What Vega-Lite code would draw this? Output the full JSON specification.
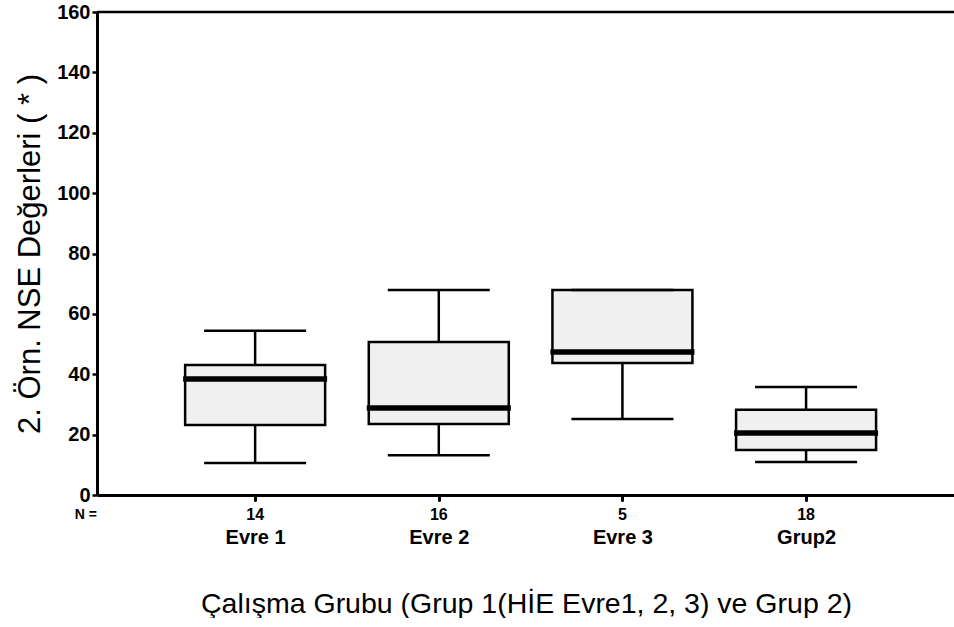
{
  "$schema": "https://vega.github.io/schema/vega-lite/v6.json",
  "width": 858,
  "height": 483,
  "padding": {"left": 14, "top": 2, "right": 0, "bottom": 0},
  "background": "white",
  "config": {
    "view": {"stroke": null},
    "font": "Liberation Sans",
    "axis": {"labelColor": "black", "titleColor": "black", "domainColor": "black", "tickColor": "black", "grid": false, "titleFontWeight": "normal", "labelFont": "Liberation Sans", "titleFont": "Liberation Sans"}
  },
  "datasets": {
    "boxes": [
      {"group": "Evre 1", "n": 14, "lower": 10.6, "q1": 23.2, "median": 38.4, "q3": 43.1, "upper": 54.4},
      {"group": "Evre 2", "n": 16, "lower": 13.2, "q1": 23.5, "median": 28.8, "q3": 50.7, "upper": 67.9},
      {"group": "Evre 3", "n": 5, "lower": 25.2, "q1": 43.7, "median": 47.4, "q3": 67.9, "upper": 67.9},
      {"group": "Grup2", "n": 18, "lower": 10.9, "q1": 14.9, "median": 20.5, "q3": 28.2, "upper": 35.8}
    ],
    "nlabel": [{"label": "N ="}],
    "frame": [{"top": 160}]
  },
  "layer": [
    {
      "data": {"name": "boxes"},
      "mark": {"type": "rule", "color": "black", "strokeWidth": 2.5},
      "encoding": {
        "x": {
          "field": "group",
          "type": "nominal",
          "sort": ["Evre 1", "Evre 2", "Evre 3", "Grup2"],
          "scale": {"type": "point", "padding": 0.836, "align": 0.515},
          "axis": {
            "title": "Çalışma Grubu (Grup 1(HİE Evre1, 2, 3) ve Grup 2)",
            "titleFontSize": 28.5,
            "titlePadding": 42,
            "labelAngle": 0,
            "labelFontSize": 20,
            "labelFontWeight": "bold",
            "labelPadding": 27,
            "domainWidth": 3,
            "tickSize": 5,
            "tickWidth": 3,
            "tickCap": "round"
          }
        },
        "y": {
          "field": "lower",
          "type": "quantitative",
          "scale": {"domain": [0, 160], "nice": false},
          "axis": {
            "title": "2. Örn. NSE Değerleri ( * )",
            "titleFontSize": 31,
            "titlePadding": 10,
            "values": [0, 20, 40, 60, 80, 100, 120, 140, 160],
            "labelFontSize": 20,
            "labelFontWeight": "bold",
            "labelPadding": 2,
            "domainWidth": 3,
            "tickSize": 5,
            "tickWidth": 2.5
          }
        },
        "y2": {"field": "upper"}
      }
    },
    {
      "data": {"name": "boxes"},
      "mark": {"type": "bar", "size": 140, "fill": "#f0f0f0", "stroke": "black", "strokeWidth": 2.5},
      "encoding": {
        "x": {"field": "group", "type": "nominal", "sort": ["Evre 1", "Evre 2", "Evre 3", "Grup2"]},
        "y": {"field": "q1", "type": "quantitative"},
        "y2": {"field": "q3"}
      }
    },
    {
      "data": {"name": "boxes"},
      "mark": {"type": "tick", "size": 102, "thickness": 2.5, "color": "black", "opacity": 1},
      "encoding": {
        "x": {"field": "group", "type": "nominal", "sort": ["Evre 1", "Evre 2", "Evre 3", "Grup2"]},
        "y": {"field": "lower", "type": "quantitative"}
      }
    },
    {
      "data": {"name": "boxes"},
      "mark": {"type": "tick", "size": 102, "thickness": 2.5, "color": "black", "opacity": 1},
      "encoding": {
        "x": {"field": "group", "type": "nominal", "sort": ["Evre 1", "Evre 2", "Evre 3", "Grup2"]},
        "y": {"field": "upper", "type": "quantitative"}
      }
    },
    {
      "data": {"name": "boxes"},
      "mark": {"type": "tick", "size": 144, "thickness": 5.5, "color": "black", "opacity": 1},
      "encoding": {
        "x": {"field": "group", "type": "nominal", "sort": ["Evre 1", "Evre 2", "Evre 3", "Grup2"]},
        "y": {"field": "median", "type": "quantitative"}
      }
    },
    {
      "data": {"name": "boxes"},
      "mark": {"type": "text", "dy": 20, "baseline": "middle", "fontSize": 16, "fontWeight": "bold", "color": "black"},
      "encoding": {
        "x": {"field": "group", "type": "nominal", "sort": ["Evre 1", "Evre 2", "Evre 3", "Grup2"]},
        "y": {"datum": 0},
        "text": {"field": "n"}
      }
    },
    {
      "data": {"name": "nlabel"},
      "mark": {"type": "text", "dy": 20, "baseline": "middle", "align": "right", "fontSize": 14, "fontWeight": "bold", "color": "black"},
      "encoding": {
        "x": {"value": 0},
        "y": {"datum": 0},
        "text": {"field": "label"}
      }
    },
    {
      "data": {"name": "frame"},
      "mark": {"type": "rule", "color": "black", "strokeWidth": 2.5},
      "encoding": {
        "y": {"field": "top", "type": "quantitative"}
      }
    }
  ]
}
